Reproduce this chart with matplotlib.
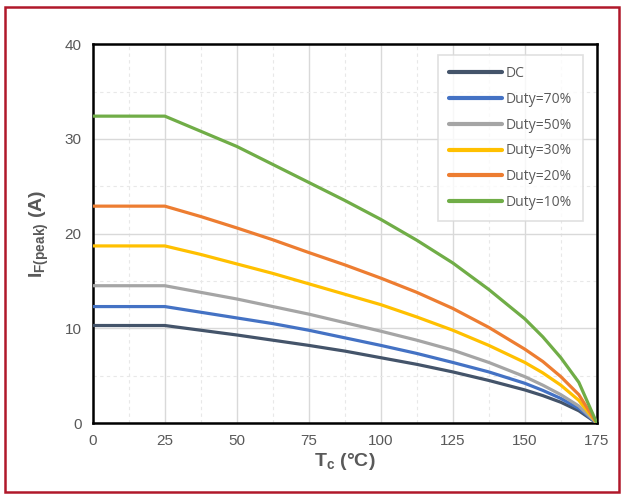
import matplotlib
matplotlib.use("Agg")
import matplotlib.pyplot as plt
from matplotlib.patches import Rectangle
from matplotlib.ticker import MultipleLocator

# case temperature (deg C)
tc = [0, 25, 31.25, 37.5, 50, 62.5, 75, 87.5, 100, 112.5, 125, 137.5, 150,
      156.25, 162.5, 168.75, 175]

# peak forward current (A)
i_dc = [10.3, 10.3, 10.05, 9.8, 9.3, 8.75, 8.2, 7.6, 6.9, 6.2, 5.4, 4.5, 3.5,
        2.9, 2.2, 1.3, 0]
i_70 = [12.3, 12.3, 12.0, 11.7, 11.1, 10.5, 9.8, 9.0, 8.2, 7.35, 6.4, 5.4, 4.2,
        3.45, 2.6, 1.55, 0]
i_50 = [14.5, 14.5, 14.15, 13.8, 13.1, 12.3, 11.5, 10.6, 9.7, 8.75, 7.7, 6.4, 4.9,
        4.0, 3.0, 1.8, 0]
i_30 = [18.7, 18.7, 18.25, 17.8, 16.8, 15.8, 14.7, 13.6, 12.5, 11.2, 9.8, 8.2, 6.4,
        5.3, 4.0, 2.4, 0]
i_20 = [22.9, 22.9, 22.35, 21.8, 20.6, 19.35, 18.0, 16.7, 15.3, 13.8, 12.1, 10.1, 7.8,
        6.5, 4.9, 3.0, 0]
i_10 = [32.4, 32.4, 31.6, 30.8, 29.2, 27.3, 25.4, 23.5, 21.5, 19.3, 16.9, 14.1, 11.0,
        9.1, 6.9, 4.3, 0]

labels = ["DC", "Duty=70%", "Duty=50%", "Duty=30%", "Duty=20%", "Duty=10%"]
colors = ["#44546A", "#4472C4", "#A5A5A5", "#FFC000", "#ED7D31", "#70AD47"]
series = [i_dc, i_70, i_50, i_30, i_20, i_10]

x_ticks = [0, 25, 50, 75, 100, 125, 150, 175]
y_ticks = [0, 10, 20, 30, 40]

txt_gray = "#595959"

fig = plt.figure(figsize=(6.23, 4.96), dpi=100)
ax = fig.add_axes([0.149, 0.147, 0.809, 0.764])

for y, c, lab in zip(series, colors, labels):
    ax.plot(tc, y, color=c, lw=2.3, label=lab, solid_capstyle="round",
            solid_joinstyle="round", zorder=3)

ax.set_xlim(0, 175)
ax.set_ylim(0, 40)
ax.set_xticks(x_ticks)
ax.set_yticks(y_ticks)
ax.xaxis.set_minor_locator(MultipleLocator(12.5))
ax.yaxis.set_minor_locator(MultipleLocator(5))
ax.grid(which="major", color="#D9D9D9", lw=1.0, zorder=0)
ax.grid(which="minor", color="#E8E8E8", lw=0.8, ls=(0, (3, 3)), zorder=0)
ax.tick_params(which="both", length=0, pad=8, labelsize=11, labelcolor=txt_gray)
for lbl in ax.get_xticklabels() + ax.get_yticklabels():
    lbl.set_fontfamily("Liberation Sans")
for sp in ax.spines.values():
    sp.set_color("black")
    sp.set_linewidth(1.8)

ax.set_xlabel(r"T$_\mathregular{c}$ ($\mathregular{\degree}$C)", fontsize=14,
              fontweight="bold", color=txt_gray, family="Liberation Sans", labelpad=2)
ax.set_ylabel(r"I$_\mathregular{F(peak)}$ (A)", fontsize=14,
              fontweight="bold", color=txt_gray, family="Liberation Sans", labelpad=10)

leg = ax.legend(loc="upper right", bbox_to_anchor=(0.986, 0.99), frameon=True,
                fancybox=False, edgecolor="#D9D9D9", handlelength=3.8,
                labelspacing=0.78, borderpad=0.8, handletextpad=0.25,
                prop={"family": "Open Sans", "size": 10})
leg.get_frame().set_linewidth(1.2)
for t in leg.get_texts():
    t.set_color(txt_gray)
for h in leg.get_lines():
    h.set_linewidth(3)

# dark red frame around the whole chart
fig.patches.append(Rectangle((0.008, 0.008), 0.986, 0.978, transform=fig.transFigure,
                             fill=False, edgecolor="#B0182A", lw=1.8))

fig.savefig("out.png", dpi=100, facecolor="white")
